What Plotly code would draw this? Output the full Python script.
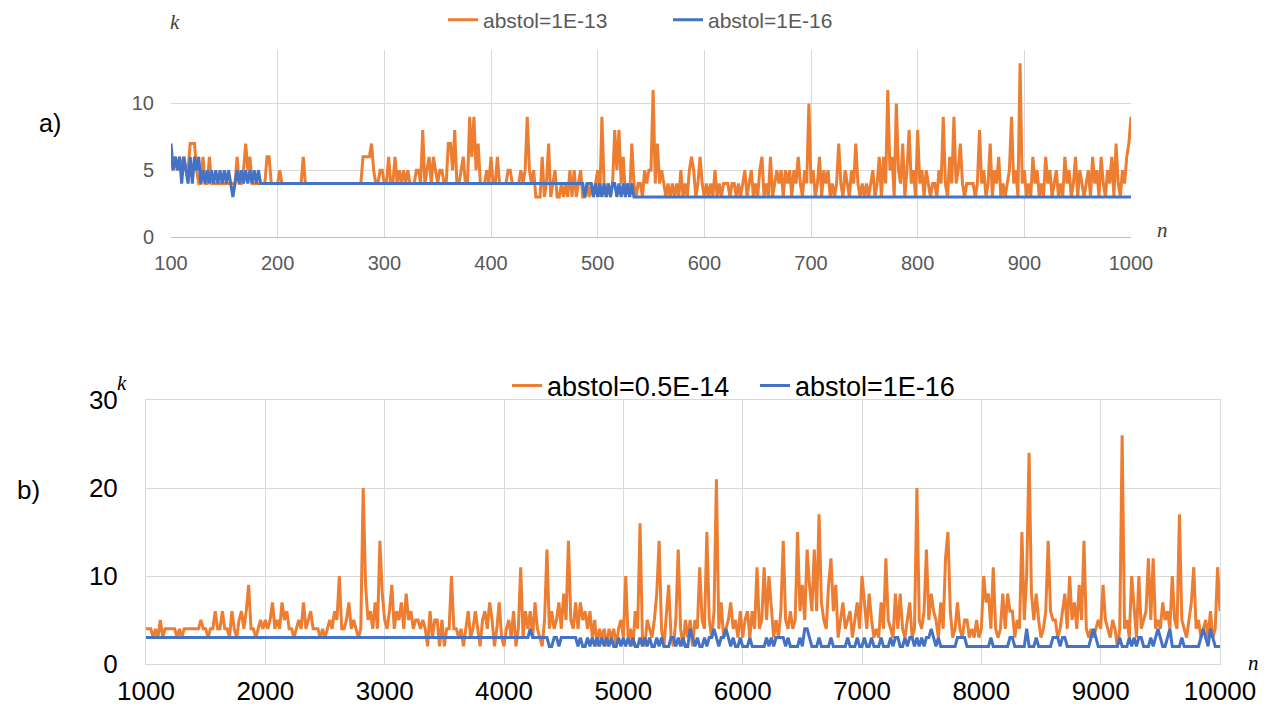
import plotly.graph_objects as go

# ---------------- data ----------------
# values are written one character per point, base-36 digits (a=10, b=11, ... q=26)
top_n = list(range(100, 1001, 2))
top_k_1e13 = [int(c, 36) for c in (
    "6565656557 7754464464 4444444444 4644575644 4444466444 "
    "4544444444 4464444444 4444444444 4444444444 6666754455 "
    "4464464545 4544455484 5646545544 7758445644 9695744454 "
    "6446444455 4444545954 5333634734 5334343535 3453343434 "
    "5394343485 8463437434 435455b474 5434343435 3435653464 "
    "3434353434 4434434345 3453435634 3634545354 535464354a "
    "4534635453 4347435435 4743434345 346364b563 a547358453 "
    "8453543443 5494364945 7434444348 4534735463 43459453d4 "
    "5343645343 6453453436 4534635434 5364536435 4637435467 "
    "9").replace(" ", "")]
top_k_1e16 = [int(c, 36) for c in (
    "75656465464656 "
    "454545454545454 3 4545454545454 "
    "4444444444 4444444444 4444444444 4444444444 4444444444 "
    "4444444444 4444444444 4444444444 4444444444 4444444444 "
    "4444444444 4444444444 4444444444 4444444444 4444444444 "
    "4344434343434344343434343 "
    "3333333333 3333333333 3333333333 3333333333 3333333333 "
    "3333333333 3333333333 3333333333 3333333333 3333333333 "
    "3333333333 3333333333 3333333333 3333333333 3333333333 "
    "3333333333 3333333333 3333333333 3333333333 3333333333 "
    "3333333333 3333333333 3333333333 333").replace(" ", "")]

bot_n = list(range(1000, 10001, 20))
bot_k_05e14 = [int(c, 36) for c in (
    "4443435344 4443434444 4445443446 4464436435 6469443454 "
    "5457454756 4434547456 4443434546 5a44574543 4k956474e8 "
    "5469465748 5645545426 35525244a4 4342463464 2564752473 "
    "2453624b36 46374325d4 6457485e54 7475646352 4342434245 "
    "3a34264g32 54358e4269 325d425352 54b54f536l 4734574536 "
    "356364b45b 5a63536e54 645f695d96 d6h7549c69 3574563574 "
    "a748534374 c543848435 734k546d58 65374cf634 7435534353 "
    "4a784b4348 4866354f5a o8585346e6 5534684a57 495e434345 "
    "495435424q 453a63a456 c5c4547564 a54h54357b 453453634b "
    "6").replace(" ", "")]
bot_k_1e16 = [int(c, 36) for c in (
    "3333333333 3333333333 3333333333 3333333333 3333333333 "
    "3333333333 3333333333 3333333333 3333333333 3333333333 "
    "3333333333 3333333333 3333333333 3333333333 3333333333 "
    "3333333333 3433333332 2332333333 3232232323 2323232232 "
    "3232322323 2322323222 3323232243 2322323343 2334323223 "
    "2223222222 3232333323 2222324432 2232222322 2222322232 "
    "2322322232 2232332232 3323232334 3232222222 3333222222 "
    "2222322222 2233222224 2223222222 3332332222 2222223432 "
    "2222222232 2232323322 2323432234 2222322222 2234324322 "
    "2").replace(" ", "")]

assert len(top_k_1e13) == len(top_n), len(top_k_1e13)
assert len(top_k_1e16) == len(top_n), len(top_k_1e16)
assert len(bot_k_05e14) == len(bot_n), len(bot_k_05e14)
assert len(bot_k_1e16) == len(bot_n), len(bot_k_1e16)

top_xticks = list(range(100, 1001, 100))
top_xlabels = [str(v) for v in top_xticks]
top_yticks = [0, 5, 10]
bot_xticks = list(range(1000, 10001, 1000))
bot_xlabels = [str(v) for v in bot_xticks]
bot_yticks = [0, 10, 20, 30]

ORANGE = "#ED7D31"
BLUE = "#4472C4"
GRID = "#D9D9D9"
W, H = 1266, 707

fig = go.Figure()
fig.add_trace(go.Scatter(x=top_n, y=top_k_1e13, mode="lines", name="abstol=1E-13",
                         line=dict(color=ORANGE, width=3), xaxis="x", yaxis="y", legend="legend"))
fig.add_trace(go.Scatter(x=top_n, y=top_k_1e16, mode="lines", name="abstol=1E-16",
                         line=dict(color=BLUE, width=3), xaxis="x", yaxis="y", legend="legend"))
fig.add_trace(go.Scatter(x=bot_n, y=bot_k_05e14, mode="lines", name="abstol=0.5E-14",
                         line=dict(color=ORANGE, width=3), xaxis="x2", yaxis="y2", legend="legend2"))
fig.add_trace(go.Scatter(x=bot_n, y=bot_k_1e16, mode="lines", name="abstol=1E-16",
                         line=dict(color=BLUE, width=3), xaxis="x2", yaxis="y2", legend="legend2"))

def px(x):
    return x / W

def py(y):
    return 1 - y / H

top_font = dict(size=20, color="#595959")
top_leg_font = dict(size=21, color="#595959")
bot_font = dict(size=26, color="#000000")
bot_leg_font = dict(size=27, color="#000000")

fig.update_layout(
    template="none",
    width=W, height=H,
    margin=dict(l=0, r=0, t=0, b=0, autoexpand=False),
    paper_bgcolor="white", plot_bgcolor="white",
    font=dict(family="Liberation Sans, Arial, sans-serif"),
    xaxis=dict(domain=[px(171), px(1131)], anchor="y", range=[100, 1000], automargin=False,
               tickvals=top_xticks, ticktext=top_xlabels, showgrid=True, gridcolor=GRID, gridwidth=1,
               showline=True, linecolor="#BFBFBF", linewidth=1, zeroline=False,
               ticks="outside", ticklen=8, tickcolor="rgba(0,0,0,0)", tickfont=top_font),
    yaxis=dict(domain=[py(237), py(50)], anchor="x", range=[0, 14], automargin=False,
               tickvals=top_yticks, showgrid=True, gridcolor=GRID, gridwidth=1,
               showline=False, zeroline=False,
               ticks="outside", ticklen=12, tickcolor="rgba(0,0,0,0)", tickfont=top_font),
    xaxis2=dict(domain=[px(146), px(1220)], anchor="y2", range=[1000, 10000], automargin=False,
                tickvals=bot_xticks, ticktext=bot_xlabels, showgrid=True, gridcolor=GRID, gridwidth=1,
                showline=True, mirror=True, linecolor=GRID, linewidth=1, zeroline=False,
                ticks="outside", ticklen=4, tickcolor="rgba(0,0,0,0)", tickfont=bot_font),
    yaxis2=dict(domain=[py(664), py(400)], anchor="x2", range=[0, 30], automargin=False,
                tickvals=bot_yticks, showgrid=True, gridcolor=GRID, gridwidth=1,
                showline=True, mirror=True, linecolor=GRID, linewidth=1, zeroline=False,
                ticks="outside", ticklen=22, tickcolor="rgba(0,0,0,0)", tickfont=bot_font),
    legend=dict(orientation="h", x=px(668), xanchor="center", y=py(20), yanchor="middle",
                font=top_leg_font, bgcolor="rgba(0,0,0,0)", entrywidth=180),
    legend2=dict(orientation="h", x=px(755), xanchor="center", y=py(386), yanchor="middle",
                 font=bot_leg_font, bgcolor="rgba(0,0,0,0)", entrywidth=203),
    showlegend=True,
)

ann = [
    ("<i>k</i>", 175, 22, 21, "#404040", "Liberation Serif, Times New Roman, serif"),
    ("<i>n</i>", 1162, 230, 21, "#404040", "Liberation Serif, Times New Roman, serif"),
    ("<i>k</i>", 122, 383, 21, "#000000", "Liberation Serif, Times New Roman, serif"),
    ("<i>n</i>", 1253, 663, 21, "#000000", "Liberation Serif, Times New Roman, serif"),
    ("a)", 50, 123, 25, "#000000", "Liberation Sans, Arial, sans-serif"),
    ("b)", 28, 490, 26, "#000000", "Liberation Sans, Arial, sans-serif"),
]
for text, x, y, size, color, fam in ann:
    fig.add_annotation(text=text, x=px(x), y=py(y), xref="paper", yref="paper",
                       xanchor="center", yanchor="middle", showarrow=False,
                       font=dict(size=size, color=color, family=fam))

# the page's default 8px body margin would shift the figure; remove it
fig.write_html("out.html", config={"displayModeBar": False},
               post_script="document.body.style.margin='0';document.body.style.overflow='hidden';")
